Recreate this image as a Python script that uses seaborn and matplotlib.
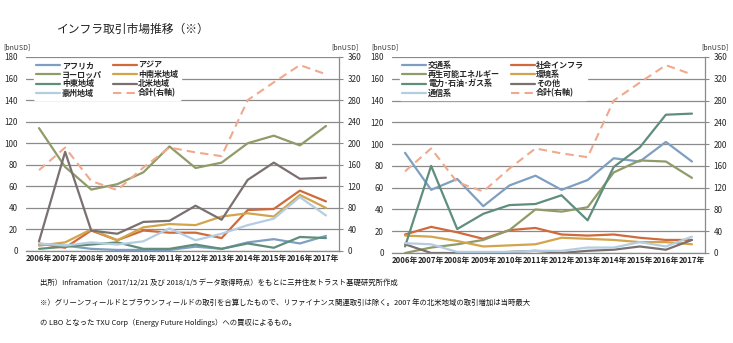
import matplotlib
matplotlib.use("Agg")
import matplotlib.pyplot as plt
import numpy as np
import pandas as pd
import seaborn as sns

sns.set_theme(style="white")
plt.rcParams["font.family"] = ["Noto Sans CJK JP", "DejaVu Sans"]

years = ["2006年", "2007年", "2008年", "2009年", "2010年", "2011年",
         "2012年", "2013年", "2014年", "2015年", "2016年", "2017年"]

# regional breakdown (bnUSD)
africa = [6, 5, 2, 1, 1, 1, 4, 2, 8, 11, 7, 14]
asia = [7, 3, 19, 10, 19, 17, 17, 12, 38, 39, 56, 46]
europe = [114, 78, 57, 62, 73, 97, 77, 82, 100, 107, 98, 116]
latam = [5, 8, 20, 10, 22, 25, 24, 32, 35, 32, 52, 40]
mideast = [2, 4, 6, 8, 2, 2, 6, 2, 7, 3, 13, 12]
namerica = [9, 92, 19, 16, 27, 28, 42, 29, 66, 82, 67, 68]
oceania = [7, 5, 8, 6, 9, 21, 10, 16, 24, 30, 50, 33]

# sector breakdown (bnUSD)
transport = [92, 58, 68, 43, 62, 71, 58, 67, 87, 84, 102, 84]
social = [17, 24, 19, 13, 21, 23, 17, 16, 17, 14, 12, 12]
renewable = [0, 5, 8, 12, 21, 40, 38, 42, 74, 85, 84, 69]
environment = [16, 15, 11, 6, 7, 8, 14, 13, 12, 10, 10, 8]
power = [6, 80, 22, 36, 44, 45, 53, 30, 79, 97, 127, 128]
other = [8, 0, 0, 0, 1, 2, 0, 2, 3, 6, 3, 12]
telecom = [9, 8, 1, 1, 1, 2, 2, 5, 5, 10, 6, 15]

# total (right axis)
total = [150, 192, 130, 113, 155, 192, 183, 176, 280, 313, 345, 328]

c_blue = "#7f9fc1"
c_red = "#d06a3c"
c_olive = "#8f9b68"
c_gold = "#d2a44c"
c_teal = "#5f8e7c"
c_gray = "#7b7070"
c_light = "#b5cde1"
c_total = "#f0a98c"
grid_c = "#8a8a8a"

region_series = [
    ("アフリカ", africa, c_blue), ("アジア", asia, c_red),
    ("ヨーロッパ", europe, c_olive), ("中南米地域", latam, c_gold),
    ("中東地域", mideast, c_teal), ("北米地域", namerica, c_gray),
    ("豪州地域", oceania, c_light),
]
sector_series = [
    ("交通系", transport, c_blue), ("社会インフラ", social, c_red),
    ("再生可能エネルギー", renewable, c_olive), ("環境系", environment, c_gold),
    ("電力･石油･ガス系", power, c_teal), ("その他", other, c_gray),
    ("通信系", telecom, c_light),
]

fig = plt.figure(figsize=(7.33, 3.43), dpi=100)
fig.patch.set_facecolor("white")

W, H = 733, 343


def panel(x0, x1, ytop, ybot, series, unit_left, unit_right):
    ax = fig.add_axes([x0 / W, (H - ybot) / H, (x1 - x0) / W, (ybot - ytop) / H])
    ax2 = ax.twinx()
    x = np.arange(len(years))
    handles = []
    for name, vals, col in series:
        df = pd.DataFrame({"x": x, "y": vals})
        sns.lineplot(data=df, x="x", y="y", ax=ax, color=col, linewidth=1.6,
                     label=name, legend=False)
        handles.append(ax.lines[-1])
    dft = pd.DataFrame({"x": x, "y": total})
    sns.lineplot(data=dft, x="x", y="y", ax=ax2, color=c_total, linewidth=1.5,
                 legend=False)
    tl = ax2.lines[-1]
    tl.set_dashes([4, 2.5])
    tl.set_label("合計(右軸)")

    ax.set_xlim(-0.5, len(years) - 0.5)
    ax.set_ylim(0, 180)
    ax2.set_ylim(0, 360)
    ax.set_yticks(np.arange(0, 181, 20))
    ax2.set_yticks(np.arange(0, 361, 40))
    ax.set_xticks(x)
    ax.set_xticklabels(years, fontsize=5.6)
    ax.set_xticks(np.arange(-0.5, len(years), 1), minor=True)
    ax.tick_params(axis="x", which="major", length=0, pad=2)
    ax.tick_params(axis="x", which="minor", length=3, color=grid_c, width=0.8,
                   direction="out")
    ax.tick_params(axis="y", labelsize=5.8, length=0, pad=6)
    ax2.tick_params(axis="y", labelsize=5.8, length=3, color=grid_c, width=0.8,
                    pad=3)
    ax.set_xlabel("")
    ax.set_ylabel("")
    ax2.set_ylabel("")
    ax.yaxis.grid(True, color=grid_c, linewidth=0.9)
    ax.set_axisbelow(True)
    for sp in ["top", "left"]:
        ax.spines[sp].set_visible(False)
        ax2.spines[sp].set_visible(False)
    ax.spines["right"].set_visible(False)
    ax2.spines["right"].set_color(grid_c)
    ax2.spines["right"].set_linewidth(0.9)
    ax2.spines["bottom"].set_visible(False)
    ax.spines["bottom"].set_color(grid_c)
    ax.spines["bottom"].set_linewidth(0.9)

    # legend: two columns filled row by row
    all_h = handles + [tl]
    order = [0, 2, 4, 6, 1, 3, 5, 7]
    leg = ax2.legend([all_h[i] for i in order],
                     [all_h[i].get_label() for i in order],
                     ncol=2, loc="upper left", bbox_to_anchor=(0.02, 1.0),
                     fontsize=5.8, frameon=True, framealpha=1.0,
                     edgecolor="white", facecolor="white", handlelength=3.0,
                     handletextpad=0.2, columnspacing=1.3, labelspacing=0.02,
                     borderpad=0.3, borderaxespad=0.2)
    for t in leg.get_texts():
        t.set_fontweight("bold")
    for t in ax.get_xticklabels():
        t.set_fontweight("bold")

    fig.text(unit_left / W, 1 - 47 / H, "[bnUSD]", fontsize=5,
             ha="left", va="center", color="#333333")
    fig.text(unit_right / W, 1 - 47 / H, "[bnUSD]", fontsize=5,
             ha="left", va="center", color="#333333")
    return ax


panel(26, 339, 57, 251, region_series, 3, 331)
panel(392, 705, 57, 253, sector_series, 371, 701)

fig.text(57 / W, 1 - 29 / H, "インフラ取引市場推移（※）", fontsize=8.5,
         va="center", ha="left", color="#222222")

notes = [
    "出所）Inframation（2017/12/21 及び 2018/1/5 データ取得時点）をもとに三井住友トラスト基礎研究所作成",
    "※）グリーンフィールドとブラウンフィールドの取引を合算したもので、リファイナンス関連取引は除く。2007 年の北米地域の取引増加は当時最大",
    "の LBO となった TXU Corp（Energy Future Holdings）への買収によるもの。",
]
for i, s in enumerate(notes):
    fig.text(40 / W, 1 - (283 + 20 * i) / H, s, fontsize=5.3, va="center",
             ha="left", color="#111111")

fig.savefig("out.png", dpi=100, facecolor="white")
